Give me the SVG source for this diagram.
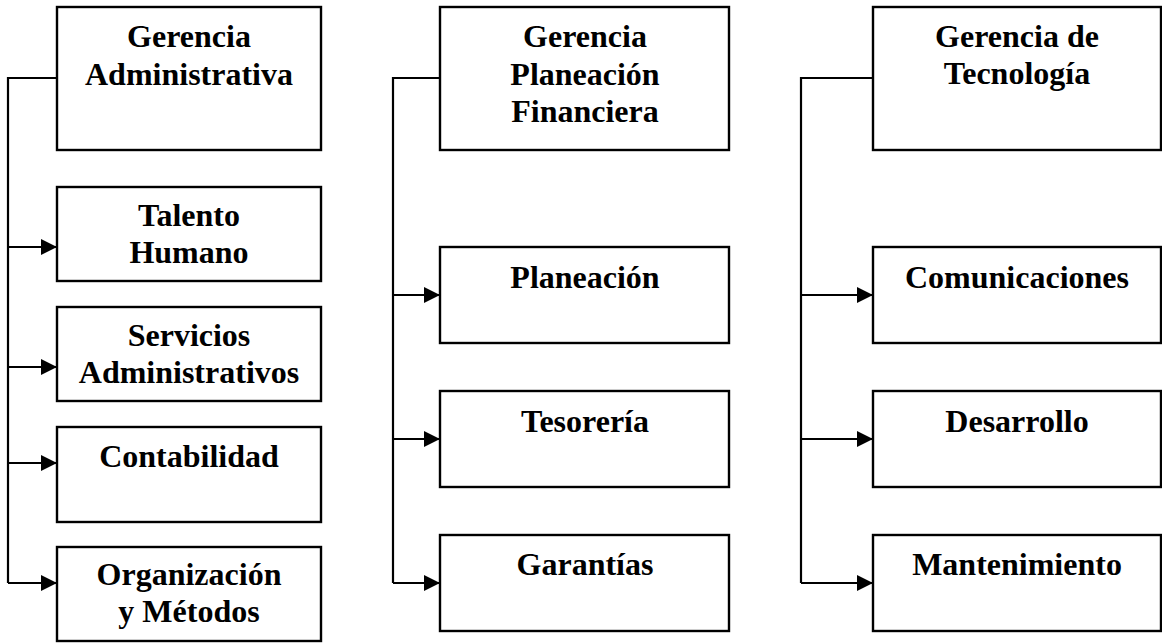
<svg xmlns="http://www.w3.org/2000/svg" width="1162" height="644" viewBox="0 0 1162 644">
  <style>
    .box { fill: #ffffff; stroke: #000000; stroke-width: 2.4; }
    .lbl { font-family: "Liberation Serif", "Times New Roman", serif; font-weight: bold; font-size: 32px; fill: #000000; text-anchor: middle; }
    .wire { fill: none; stroke: #000000; stroke-width: 2.2; }
  </style>
  <defs>
    <marker id="arrow" markerUnits="userSpaceOnUse" markerWidth="16" markerHeight="16" refX="16" refY="8" orient="auto">
      <path d="M0,0 L16,8 L0,16 Z" fill="#000000"/>
    </marker>
  </defs>
  <rect width="1162" height="644" fill="#ffffff"/>

  <g id="connectors">
    <!-- column 1 -->
    <polyline class="wire" points="57,78 8,78 8,583"/>
    <line class="wire" x1="8" y1="247" x2="57" y2="247" marker-end="url(#arrow)"/>
    <line class="wire" x1="8" y1="367" x2="57" y2="367" marker-end="url(#arrow)"/>
    <line class="wire" x1="8" y1="463" x2="57" y2="463" marker-end="url(#arrow)"/>
    <line class="wire" x1="8" y1="583" x2="57" y2="583" marker-end="url(#arrow)"/>
    <!-- column 2 -->
    <polyline class="wire" points="440,78 393,78 393,583"/>
    <line class="wire" x1="393" y1="295" x2="440" y2="295" marker-end="url(#arrow)"/>
    <line class="wire" x1="393" y1="439" x2="440" y2="439" marker-end="url(#arrow)"/>
    <line class="wire" x1="393" y1="583" x2="440" y2="583" marker-end="url(#arrow)"/>
    <!-- column 3 -->
    <polyline class="wire" points="873,78 801,78 801,583"/>
    <line class="wire" x1="801" y1="295" x2="873" y2="295" marker-end="url(#arrow)"/>
    <line class="wire" x1="801" y1="439" x2="873" y2="439" marker-end="url(#arrow)"/>
    <line class="wire" x1="801" y1="583" x2="873" y2="583" marker-end="url(#arrow)"/>
  </g>

  <!-- column 1 -->
  <g id="gerencia-administrativa">
    <rect class="box" x="57" y="7" width="264" height="143"/>
    <text class="lbl" x="189" y="47">Gerencia</text>
    <text class="lbl" x="189" y="85">Administrativa</text>
  </g>
  <g id="talento-humano">
    <rect class="box" x="57" y="187" width="264" height="94"/>
    <text class="lbl" x="189" y="226">Talento</text>
    <text class="lbl" x="189" y="263">Humano</text>
  </g>
  <g id="servicios-administrativos">
    <rect class="box" x="57" y="307" width="264" height="94"/>
    <text class="lbl" x="189" y="346">Servicios</text>
    <text class="lbl" x="189" y="383">Administrativos</text>
  </g>
  <g id="contabilidad">
    <rect class="box" x="57" y="427" width="264" height="95"/>
    <text class="lbl" x="189" y="467">Contabilidad</text>
  </g>
  <g id="organizacion-metodos">
    <rect class="box" x="57" y="547" width="264" height="94"/>
    <text class="lbl" x="189" y="585">Organización</text>
    <text class="lbl" x="189" y="622">y Métodos</text>
  </g>

  <!-- column 2 -->
  <g id="gerencia-planeacion-financiera">
    <rect class="box" x="440" y="7" width="289" height="143"/>
    <text class="lbl" x="585" y="47">Gerencia</text>
    <text class="lbl" x="585" y="85">Planeación</text>
    <text class="lbl" x="585" y="122">Financiera</text>
  </g>
  <g id="planeacion">
    <rect class="box" x="440" y="247" width="289" height="96"/>
    <text class="lbl" x="585" y="288">Planeación</text>
  </g>
  <g id="tesoreria">
    <rect class="box" x="440" y="391" width="289" height="96"/>
    <text class="lbl" x="585" y="432">Tesorería</text>
  </g>
  <g id="garantias">
    <rect class="box" x="440" y="535" width="289" height="96"/>
    <text class="lbl" x="585" y="575">Garantías</text>
  </g>

  <!-- column 3 -->
  <g id="gerencia-tecnologia">
    <rect class="box" x="873" y="7" width="288" height="143"/>
    <text class="lbl" x="1017" y="47">Gerencia de</text>
    <text class="lbl" x="1017" y="84">Tecnología</text>
  </g>
  <g id="comunicaciones">
    <rect class="box" x="873" y="247" width="288" height="96"/>
    <text class="lbl" x="1017" y="288">Comunicaciones</text>
  </g>
  <g id="desarrollo">
    <rect class="box" x="873" y="391" width="288" height="96"/>
    <text class="lbl" x="1017" y="432">Desarrollo</text>
  </g>
  <g id="mantenimiento">
    <rect class="box" x="873" y="535" width="288" height="96"/>
    <text class="lbl" x="1017" y="575">Mantenimiento</text>
  </g>
</svg>
